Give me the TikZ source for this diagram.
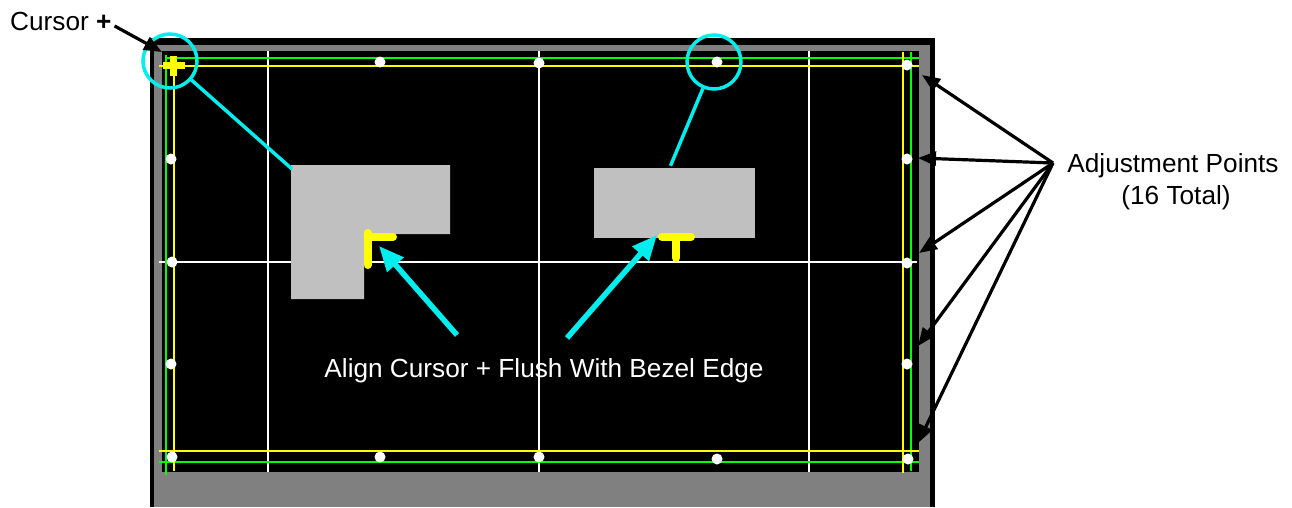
\documentclass[tikz,border=0pt]{standalone}
\usepackage{fontspec}
\setmainfont{Liberation Sans}
\usetikzlibrary{arrows.meta}
\definecolor{scrgreen}{RGB}{0,255,0}
\definecolor{scryellow}{RGB}{255,255,0}
\definecolor{bezel}{RGB}{128,128,128}
\definecolor{boxgray}{RGB}{192,192,192}
\definecolor{aqua}{RGB}{0,238,238}
\begin{document}
\begin{tikzpicture}[x=1pt,y=-1pt,
  gridline/.style={white,line width=2.3pt},
  grnline/.style={scrgreen,line width=2.3pt},
  ylwline/.style={scryellow,line width=2.3pt},
  adjdot/.style={circle,fill=white,inner sep=0pt,minimum size=11pt},
  ycursor/.style={scryellow,line width=8pt,line cap=round},
  ringmark/.style={circle,draw=aqua,line width=3.5pt,minimum size=54pt,inner sep=0pt},
  aqualine/.style={aqua,line width=3.5pt},
  aquaarrow/.style={aqua,line width=5.5pt,-{Triangle[length=25pt,width=21pt]}},
  blkarrow/.style={black,line width=3.2pt,-{Triangle[length=18pt,width=14pt]}},
  lbl/.style={font=\fontsize{26.2}{30}\selectfont,inner sep=0pt}
]
\useasboundingbox (0,0) rectangle (1292,507);
\fill[white] (0,0) rectangle (1292,507);
% monitor frame
\fill[black] (150,38) rectangle (935,507);
\fill[bezel] (154,45) rectangle (930,507);
\fill[black] (162,51) rectangle (919,472);
% white grid
\draw[gridline] (268,51) -- (268,472);
\draw[gridline] (539,51) -- (539,472);
\draw[gridline] (809,51) -- (809,472);
\draw[gridline] (159,262) -- (917,262);
% green and yellow border lines
\draw[grnline] (165,58) -- (919,58);
\draw[grnline] (159,462) -- (919,462);
\draw[grnline] (166,55) -- (166,475);
\draw[grnline] (911,52) -- (911,471);
\draw[ylwline] (159,66) -- (919,66);
\draw[ylwline] (159,451) -- (919,451);
\draw[ylwline] (174,57) -- (174,471);
\draw[ylwline] (903,52) -- (903,473);
% adjustment dots
\foreach \p [count=\i] in {(380,62),(539,63),(717,62),(907,65),
  (171,159),(172,262),(171,364),(172,457),
  (380,457),(539,457),(717,459),(908,459),
  (907,159),(907,263),(907,364)}
  \node[adjdot] (d\i) at \p {};
% corner cursor
\draw[scryellow,line width=7pt] (173.5,56) -- (173.5,76);
\draw[scryellow,line width=7.5pt] (163,65.5) -- (185,65.5);
% gray boxes
\fill[boxgray] (291,165) -- (450,165) -- (450,234) -- (364,234) -- (364,299) -- (291,299) -- cycle;
\coordinate (Lcorner) at (292,169);
\node[fill=boxgray,minimum width=161pt,minimum height=70pt,inner sep=0pt] (box2) at (674.5,203) {};
% yellow cursors in boxes
\draw[ycursor] (367.5,233) -- (367.5,265);
\draw[ycursor] (367.5,237) -- (393,237);
\draw[ycursor] (662,237) -- (691,237);
\draw[ycursor] (676,237) -- (676,258);
% aqua rings and leaders
\node[ringmark] (ring1) at (170,61) {};
\node[ringmark] (ring2) at (714,62) {};
\draw[aqualine] (ring1) -- (Lcorner);
\draw[aqualine] (ring2) -- ([xshift=-4pt,yshift=2pt]box2.north);
% aqua arrows
\coordinate (a1s) at (457,335);
\coordinate (a1e) at (379,246);
\coordinate (a2s) at (567,338);
\coordinate (a2e) at (657,235);
\draw[aquaarrow] (a1s) -- (a1e);
\draw[aquaarrow] (a2s) -- (a2e);
% texts
\node[lbl,white,anchor=base] (align) at (544,377) {Align Cursor + Flush With Bezel Edge};
\node[lbl,anchor=base west] (cursor) at (10,30) {Cursor \textbf{+}};
\node[lbl,anchor=base] (adj1) at (1173,172) {Adjustment Points};
\node[lbl,anchor=base] (adj2) at (1176,204) {(16 Total)};
% cursor arrow
\coordinate (corner) at (162,52);
\draw[blkarrow] ([xshift=3pt,yshift=-5pt]cursor.east) -- (corner);
% adjustment arrows
\coordinate (fan) at (1053,163);
\coordinate (t1) at (922,75);
\coordinate (t2) at (918,158);
\coordinate (t3) at (919,253);
\coordinate (t4) at (918,346);
\coordinate (t5) at (918,443);
\foreach \t in {t1,t2,t3,t4,t5}
  \draw[blkarrow] (fan) -- (\t);
\end{tikzpicture}
\end{document}
